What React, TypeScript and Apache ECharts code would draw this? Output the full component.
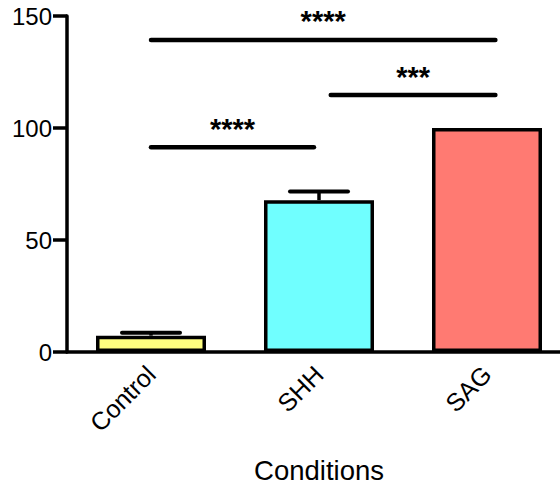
import React, { useEffect, useRef } from "react";
import * as echarts from "echarts";

const categories = ["Control", "SHH", "SAG"];
const means = [7.3, 67.8, 100];
const errorTops = [8.6, 71.6, 100];
const barColors = ["#FFFF80", "#70FFFF", "#FF7A72"];
const yTicks = { min: 0, max: 150, interval: 50 };
// significance brackets: [fromCategory, toCategory, yValue]
const sigLines = [
  [0, 2.05, 139.3],
  [1.07, 2.05, 114.7],
  [0, 0.97, 91.4],
];
const sigLabels = ["****", "***", "****"];

const FONT = "Liberation Sans, Arial, sans-serif";

export default function App() {
  const ref = useRef<HTMLDivElement>(null);
  useEffect(() => {
    const chart = echarts.init(ref.current!, null, { renderer: "svg" });
    chart.setOption({
      animation: false,
      backgroundColor: "#fff",
      grid: { left: 67, top: 16, width: 504, height: 336, containLabel: false },
      xAxis: {
        type: "category",
        data: categories,
        name: "Conditions",
        nameLocation: "middle",
        nameGap: 104,
        nameTextStyle: { fontFamily: FONT, fontSize: 27.5, color: "#000" },
        axisLine: { lineStyle: { color: "#000", width: 3.5 } },
        axisTick: { alignWithLabel: true, length: 13, lineStyle: { color: "#000", width: 3.5 } },
        axisLabel: {
          rotate: 45,
          margin: 18,
          fontFamily: FONT,
          fontSize: 25,
          color: "#000",
        },
      },
      yAxis: {
        type: "value",
        min: yTicks.min,
        max: yTicks.max,
        interval: yTicks.interval,
        splitLine: { show: false },
        axisLine: { show: true, lineStyle: { color: "#000", width: 3.5 } },
        axisTick: { show: true, length: 14, lineStyle: { color: "#000", width: 3.5 } },
        axisLabel: { margin: 15, fontFamily: FONT, fontSize: 24, color: "#000" },
      },
      series: [
        {
          type: "bar",
          barWidth: 110,
          data: means.map((v, i) => ({
            value: v,
            itemStyle: { color: barColors[i] },
          })),
          itemStyle: { borderColor: "#000", borderWidth: 3.5 },
          z: 2,
        },
        {
          type: "custom",
          coordinateSystem: "cartesian2d",
          data: categories.map((_, i) => [i, means[i], errorTops[i]]),
          encode: { x: 0, y: [1, 2] },
          z: 3,
          clip: false,
          renderItem: (params: any, api: any) => {
            const i = api.value(0);
            const lo = api.coord([i, api.value(1)]);
            const hi = api.coord([i, api.value(2)]);
            if (api.value(2) <= api.value(1)) return { type: "group", children: [] };
            const half = 29;
            return {
              type: "group",
              children: [
                {
                  type: "line",
                  shape: { x1: lo[0], y1: lo[1], x2: hi[0], y2: hi[1] },
                  style: { stroke: "#000", lineWidth: 3.5 },
                },
                {
                  type: "line",
                  shape: { x1: hi[0] - half, y1: hi[1], x2: hi[0] + half, y2: hi[1] },
                  style: { stroke: "#000", lineWidth: 4, lineCap: "round" },
                },
              ],
            };
          },
        },
        {
          type: "custom",
          coordinateSystem: "cartesian2d",
          data: sigLines.map((s) => [0, s[2], s[0], s[1]]),
          encode: { x: 0, y: 1 },
          z: 4,
          clip: false,
          renderItem: (params: any, api: any) => {
            const idx = params.dataIndex;
            const base = api.coord([0, api.value(1)]);
            const bw = api.size([1, 0])[0];
            const x1 = base[0] + api.value(2) * bw;
            const x2 = base[0] + api.value(3) * bw;
            const y = base[1];
            return {
              type: "group",
              children: [
                {
                  type: "line",
                  shape: { x1, y1: y, x2, y2: y },
                  style: { stroke: "#000", lineWidth: 4.5, lineCap: "round" },
                },
                {
                  type: "text",
                  style: {
                    text: sigLabels[idx],
                    x: (x1 + x2) / 2,
                    y: y - 4,
                    align: "center",
                    verticalAlign: "bottom",
                    fontFamily: FONT,
                    fontWeight: "bold",
                    fontSize: 29,
                    fill: "#000",
                  },
                },
              ],
            };
          },
        },
      ],
    });
    return () => chart.dispose();
  }, []);
  return (
    <div style={{ width: 560, height: 494, position: "absolute", left: 0, top: 0, overflow: "hidden", background: "#fff" }}>
      <div ref={ref} style={{ width: 580, height: 494 }} />
    </div>
  );
}
